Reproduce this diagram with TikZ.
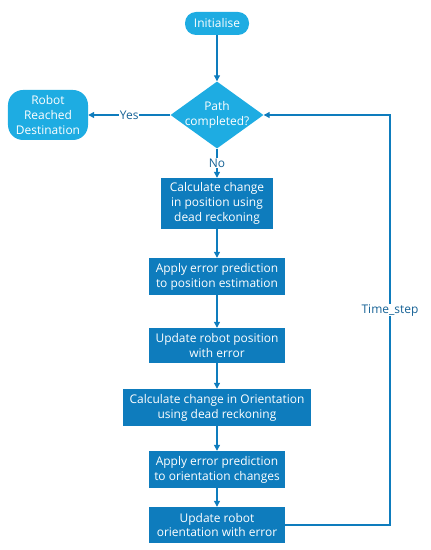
\documentclass[tikz,border=0pt]{standalone}
\usepackage{fontspec}
\setmainfont{Open Sans}
\usepackage{tikz}
\usetikzlibrary{positioning,arrows.meta,shapes.geometric,calc}
\definecolor{procblue}{RGB}{14,124,189}
\definecolor{termblue}{RGB}{30,172,226}
\definecolor{lblblue}{RGB}{22,98,150}
\tikzset{
  proc/.style={rectangle,fill=procblue,text=white,align=center,inner sep=0pt,font=\fontsize{12}{15}\selectfont},
  term/.style={rectangle,rounded corners=11bp,fill=termblue,text=white,align=center,inner sep=0pt,font=\fontsize{12}{15}\selectfont},
  decision/.style={diamond,fill=termblue,inner sep=0pt,minimum width=93bp,minimum height=67bp,aspect=1.39},
  edge/.style={-{Triangle[length=6bp,width=6bp]},draw=procblue,line width=1.1bp},
  lbl/.style={fill=white,text=lblblue,inner sep=0.5bp,font=\fontsize{12}{14}\selectfont}
}

\begin{document}
\begin{tikzpicture}[x=1bp,y=-1bp]
  \useasboundingbox (0,0) rectangle (430,550);

  \node[term,minimum width=64bp,minimum height=23bp] (init) at (217,23.5) {Initialise};
  \node[decision,label={[text=white,align=center,font=\fontsize{12}{15}\selectfont]center:Path\\completed?}] (path) at (217,115) {};
  \node[term,rounded corners=15bp,minimum width=80bp,minimum height=50bp] (dest) at (48,115) {Robot\\Reached\\Destination};

  \node[proc,minimum width=112bp,minimum height=51bp] (calcpos) at (217,203.5) {Calculate change\\in position using\\dead reckoning};
  \node[proc,minimum width=136bp,minimum height=37bp] (errpos) at (217,276.5) {Apply error prediction\\to position estimation};
  \node[proc,minimum width=136bp,minimum height=35bp] (updpos) at (217,345.5) {Update robot position\\with error};
  \node[proc,minimum width=188bp,minimum height=37bp] (calcori) at (217,407.5) {Calculate change in Orientation\\using dead reckoning};
  \node[proc,minimum width=136bp,minimum height=37bp] (errori) at (217,469.5) {Apply error prediction\\to orientation changes};
  \node[proc,minimum width=136bp,minimum height=36bp] (updori) at (217,525) {Update robot\\orientation with error};

  \coordinate (loop) at (390,525);

  \draw[edge] (init) -- (path);
  \draw[edge] (path) -- node[lbl]{Yes} (dest);
  \draw[edge] (path) -- node[lbl]{No} (calcpos);
  \draw[edge] (calcpos) -- (errpos);
  \draw[edge] (errpos) -- (updpos);
  \draw[edge] (updpos) -- (calcori);
  \draw[edge] (calcori) -- (errori);
  \draw[edge] (errori) -- (updori);
  \draw[edge] (updori) -- (loop) |- node[lbl,pos=0.262]{Time\_step} (path.east);
\end{tikzpicture}
\end{document}
